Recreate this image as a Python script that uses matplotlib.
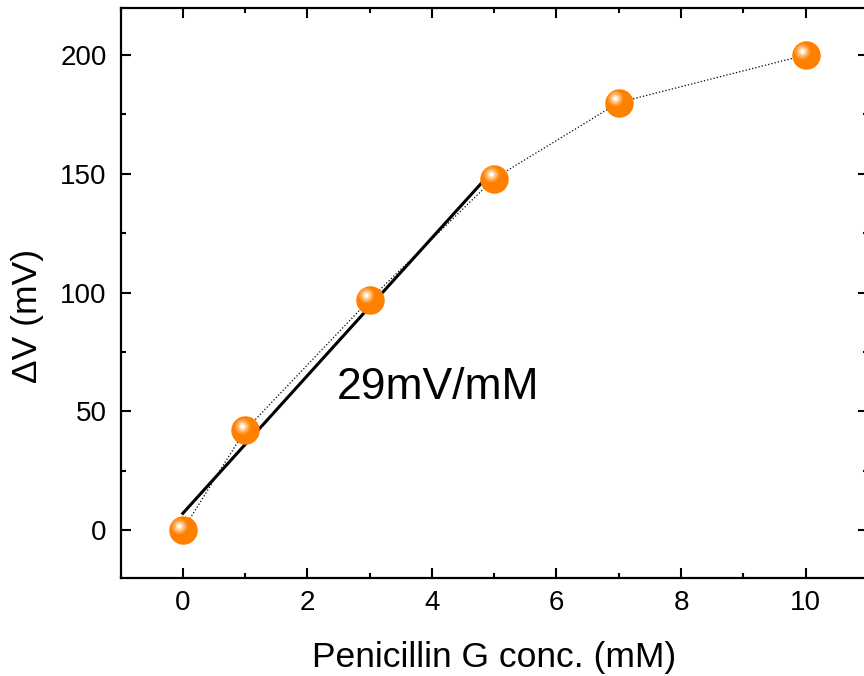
import matplotlib
matplotlib.use('Agg')
import matplotlib.pyplot as plt
import matplotlib.transforms as mtransforms
from matplotlib.ticker import MultipleLocator

plt.rcParams['font.family'] = ['Liberation Sans', 'DejaVu Sans']

# data
conc = [0, 1, 3, 5, 7, 10]
dv = [0, 42, 97, 148, 180, 200]
fit_x = [0, 5]
fit_y = [7, 152]

fig = plt.figure(figsize=(8.64, 6.76), dpi=100)
ax = fig.add_axes([0.1395, 0.1457, 0.865, 0.8432])

ax.plot(conc, dv, ':', color='k', lw=0.9, zorder=1)
ax.plot(fit_x, fit_y, '-', color='k', lw=2.2, zorder=2)

# ball markers: base + shading highlights
ax.plot(conc, dv, 'o', ms=20.5, color='#ff8000', mec='none', zorder=3)
hl = mtransforms.offset_copy(ax.transData, fig=fig, x=-2.5, y=3.2, units='points')
ax.plot(conc, dv, 'o', ms=11, color='#ff9a30', mec='none', transform=hl, zorder=4)
ax.plot(conc, dv, 'o', ms=8, color='#ffbb77', mec='none', transform=hl, zorder=5)
ax.plot(conc, dv, 'o', ms=5, color='#ffe2c4', mec='none', transform=hl, zorder=6)
ax.plot(conc, dv, 'o', ms=2.5, color='white', mec='none', transform=hl, zorder=7)

ax.text(4.1, 60, '29mV/mM', fontsize=32, ha='center', va='center')

ax.set_xlim(-1, 11)
ax.set_ylim(-20, 220)
ax.xaxis.set_major_locator(MultipleLocator(2))
ax.xaxis.set_minor_locator(MultipleLocator(1))
ax.yaxis.set_major_locator(MultipleLocator(50))
ax.yaxis.set_minor_locator(MultipleLocator(25))

ax.tick_params(which='both', direction='in', labelsize=20, width=1.5,
               top=True, right=True)
ax.tick_params(which='major', length=7.5)
ax.tick_params(which='minor', length=3.5)
ax.tick_params(axis='x', pad=9)
ax.tick_params(axis='y', pad=10)
for s in ax.spines.values():
    s.set_linewidth(1.6)

ax.set_xlabel('Penicillin G conc. (mM)', fontsize=25.5)
ax.set_ylabel('ΔV (mV)', fontsize=25.5)
ax.xaxis.set_label_coords(0.5, -0.111)
ax.yaxis.set_label_coords(-0.102, 0.459)

fig.savefig('out.png', dpi=100)
